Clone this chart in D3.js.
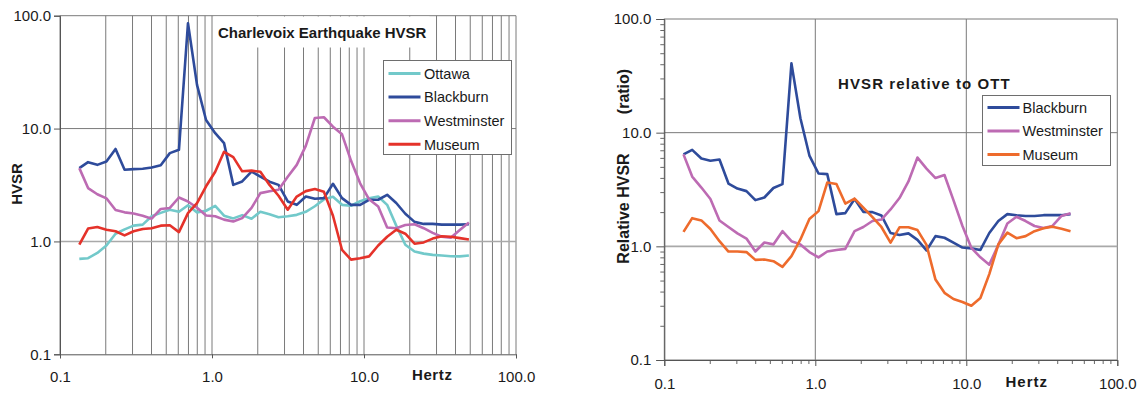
<!DOCTYPE html>
<html>
<head>
<meta charset="utf-8">
<script src="https://cdn.jsdelivr.net/npm/d3@7"></script>
<style>
  html, body { margin: 0; padding: 0; background: #fff; }
  svg { display: block; font-family: "Liberation Sans", Arial, sans-serif; }
  .tick text { fill: #1a1a1a; }
</style>
</head>
<body>
<div id="viz"></div>
<script>
//Datos (frecuencia en Hz, 1/5 de octava aprox.)
const FREQ = [0.134, 0.153, 0.176, 0.202, 0.232, 0.266, 0.305, 0.350, 0.401, 0.460,
  0.528, 0.606, 0.695, 0.797, 0.914, 1.05, 1.20, 1.38, 1.58, 1.82,
  2.08, 2.39, 2.74, 3.15, 3.61, 4.14, 4.75, 5.45, 6.25, 7.17,
  8.22, 9.43, 10.8, 12.4, 14.2, 16.3, 18.7, 21.5, 24.7, 28.3,
  32.5, 37.2, 42.7, 49.0];

//Grafico izquierdo: HVSR
const LEFT_OTTAWA = [0.70, 0.71, 0.79, 0.92, 1.17, 1.28, 1.38, 1.41, 1.67, 1.79,
  1.91, 1.83, 2.09, 1.81, 1.87, 2.07, 1.69, 1.60, 1.71, 1.59,
  1.83, 1.74, 1.64, 1.67, 1.72, 1.83, 2.05, 2.36, 2.49, 2.11,
  2.07, 2.27, 2.41, 2.50, 2.11, 1.38, 0.935, 0.815, 0.78, 0.76,
  0.75, 0.74, 0.737, 0.75];
const LEFT_BLACKBURN = [4.46, 5.04, 4.77, 5.10, 6.60, 4.31, 4.37, 4.40, 4.52, 4.74,
  6.06, 6.48, 85.7, 24.4, 11.9, 9.10, 7.43, 3.17, 3.40, 4.16,
  3.76, 3.38, 3.17, 2.26, 2.11, 2.50, 2.39, 2.42, 3.24, 2.42,
  2.11, 2.11, 2.34, 2.34, 2.59, 2.19, 1.76, 1.49, 1.43, 1.43,
  1.41, 1.41, 1.41, 1.42];
const LEFT_WESTMINSTER = [4.46, 2.97, 2.62, 2.41, 1.90, 1.81, 1.77, 1.69, 1.59, 1.94,
  1.98, 2.45, 2.26, 1.99, 1.70, 1.67, 1.56, 1.50, 1.61, 1.98,
  2.68, 2.78, 2.87, 3.74, 4.77, 7.03, 12.4, 12.6, 10.4, 8.89,
  5.18, 3.27, 2.36, 2.04, 1.33, 1.31, 1.40, 1.42, 1.31, 1.19,
  1.10, 1.08, 1.26, 1.47];
const LEFT_MUSEUM = [0.935, 1.30, 1.34, 1.27, 1.23, 1.13, 1.23, 1.29, 1.31, 1.38,
  1.39, 1.21, 1.78, 2.18, 3.08, 4.14, 6.22, 5.58, 4.18, 4.24,
  4.14, 3.17, 2.54, 1.91, 2.50, 2.79, 2.91, 2.75, 1.69, 0.84,
  0.69, 0.71, 0.737, 0.92, 1.10, 1.27, 1.17, 0.954, 0.98, 1.06,
  1.11, 1.10, 1.07, 1.04];

//Grafico derecho: HVSR relativo a OTT
const RIGHT_BLACKBURN = [6.44, 7.06, 5.92, 5.66, 5.80, 3.57, 3.22, 3.06, 2.55, 2.69,
  3.26, 3.53, 40.7, 13.4, 6.29, 4.37, 4.32, 1.92, 1.96, 2.61,
  2.01, 2.00, 1.87, 1.31, 1.26, 1.30, 1.14, 0.92, 1.23, 1.19,
  1.08, 0.976, 0.96, 0.93, 1.31, 1.67, 1.92, 1.88, 1.85, 1.85,
  1.88, 1.88, 1.88, 1.92];
const RIGHT_WESTMINSTER = [6.44, 4.11, 3.29, 2.61, 1.69, 1.48, 1.30, 1.17, 0.90, 1.08,
  1.04, 1.36, 1.11, 1.04, 0.89, 0.80, 0.90, 0.93, 0.95, 1.36,
  1.48, 1.67, 1.72, 2.11, 2.66, 3.72, 6.04, 4.83, 3.99, 4.24,
  2.55, 1.51, 0.97, 0.80, 0.69, 1.03, 1.59, 1.82, 1.67, 1.51,
  1.45, 1.51, 1.85, 1.95];
const RIGHT_MUSEUM = [1.34, 1.77, 1.69, 1.42, 1.11, 0.90, 0.90, 0.89, 0.76, 0.765,
  0.74, 0.66, 0.82, 1.15, 1.74, 2.04, 3.64, 3.53, 2.38, 2.63,
  2.19, 1.81, 1.48, 1.08, 1.47, 1.47, 1.39, 1.03, 0.51, 0.39,
  0.344, 0.324, 0.30, 0.351, 0.57, 1.04, 1.32, 1.18, 1.23, 1.36,
  1.44, 1.49, 1.43, 1.36];

const LEFT_NAMES = ['Ottawa', 'Blackburn', 'Westminster', 'Museum'];
const RIGHT_NAMES = ['Blackburn', 'Westminster', 'Museum'];
const MAJOR_TICKS = [0.1, 1, 10, 100];

//Colores
const COLOR_OTTAWA = '#72C9CA',
COLOR_BLACKBURN = '#2E4B9B',
COLOR_WESTMINSTER = '#BD6BB3',
COLOR_MUSEUM = '#E5322A',
COLOR_MUSEUM_REL = '#EE6B2C',
COLOR_GRID = '#7a7a7a',
COLOR_TEXT = '#1a1a1a';

const FONT = '"Liberation Sans", Arial, sans-serif';
let fmt = d3.format('.1f');

let svg = d3.select('#viz')
  .append('svg')
    .attr('width', 1138)
    .attr('height', 393);

function seriesData(values) {
  return FREQ.map(function(f, i) { return {f: f, v: values[i]}; });
}

///// Grafico izquierdo
(function() {
  let x = d3.scaleLog().domain([0.1, 100]).range([60, 516]);
  let y = d3.scaleLog().domain([0.1, 100]).range([354.3, 15.7]);
  let g = svg.append('g');

  //Rejilla vertical (todas las decenas)
  g.append('g')
    .selectAll('line')
    .data(x.ticks())
    .enter()
    .append('line')
      .attr('x1', function(d) { return x(d); })
      .attr('x2', function(d) { return x(d); })
      .attr('y1', y(100))
      .attr('y2', y(0.1))
      .attr('stroke', COLOR_GRID)
      .attr('stroke-width', 1);

  //Rejilla horizontal
  g.append('g')
    .selectAll('line')
    .data([10, 100])
    .enter()
    .append('line')
      .attr('x1', x(0.1))
      .attr('x2', x(100))
      .attr('y1', function(d) { return y(d); })
      .attr('y2', function(d) { return y(d); })
      .attr('stroke', COLOR_GRID);
  g.append('line')
    .attr('x1', x(0.1)).attr('x2', x(100))
    .attr('y1', y(1)).attr('y2', y(1))
    .attr('stroke', '#a9a9a9').attr('stroke-width', 1.6);

  //Caja del titulo
  g.append('rect')
    .attr('x', 213.5).attr('y', 16.5)
    .attr('width', 216).attr('height', 31)
    .attr('fill', '#fff');
  g.append('text')
    .attr('x', 218).attr('y', 38)
    .attr('font-size', 15).attr('font-weight', 700)
    .attr('fill', COLOR_TEXT)
    .text('Charlevoix Earthquake HVSR');

  //Ejes
  let yAxis = g.append('g')
    .attr('transform', 'translate(' + x(0.1) + ',0)')
    .call(d3.axisLeft(y).tickValues(MAJOR_TICKS).tickFormat(fmt).tickSize(6).tickPadding(3));
  let xAxis = g.append('g')
    .attr('transform', 'translate(0,' + y(0.1) + ')')
    .call(d3.axisBottom(x).tickValues(MAJOR_TICKS).tickFormat(fmt).tickSize(4).tickPadding(13));
  [yAxis, xAxis].forEach(function(a) {
    a.attr('font-family', FONT).attr('font-size', 15);
    a.select('.domain').attr('stroke', '#555');
    a.selectAll('.tick line').attr('stroke', '#555');
  });

  //Lineas
  let line = d3.line()
    .x(function(d) { return x(d.f); })
    .y(function(d) { return y(d.v); });
  let series = [LEFT_OTTAWA, LEFT_BLACKBURN, LEFT_WESTMINSTER, LEFT_MUSEUM];
  let colors = [COLOR_OTTAWA, COLOR_BLACKBURN, COLOR_WESTMINSTER, COLOR_MUSEUM];
  g.append('g')
    .selectAll('path')
    .data(series)
    .enter()
    .append('path')
      .attr('d', function(d) { return line(seriesData(d)); })
      .attr('fill', 'none')
      .attr('stroke', function(d, i) { return colors[i]; })
      .attr('stroke-width', 2.6)
      .attr('stroke-linejoin', 'round');

  //Leyenda
  let lg = g.append('g').attr('transform', 'translate(383.5,60.5)');
  lg.append('rect')
    .attr('width', 128).attr('height', 94)
    .attr('fill', '#fff').attr('stroke', '#6e6e6e');
  LEFT_NAMES.forEach(function(name, i) {
    let yy = 13 + i * 23.6;
    lg.append('line')
      .attr('x1', 5).attr('x2', 37).attr('y1', yy).attr('y2', yy)
      .attr('stroke', colors[i]).attr('stroke-width', 3);
    lg.append('text')
      .attr('x', 40.5).attr('y', yy + 5.2)
      .attr('font-size', 14.5).attr('fill', COLOR_TEXT)
      .text(name);
  });

  //Titulos de ejes
  g.append('text')
    .attr('transform', 'translate(22,184) rotate(-90)')
    .attr('text-anchor', 'middle')
    .attr('font-size', 15).attr('font-weight', 700).attr('fill', COLOR_TEXT)
    .text('HVSR');
  g.append('text')
    .attr('x', 412).attr('y', 380)
    .attr('font-size', 15).attr('font-weight', 700).attr('fill', COLOR_TEXT)
    .attr('letter-spacing', 0.6)
    .text('Hertz');
})();

///// Grafico derecho
(function() {
  let x = d3.scaleLog().domain([0.1, 100]).range([664.3, 1117.3]);
  let y = d3.scaleLog().domain([0.1, 100]).range([360, 19]);
  let g = svg.append('g');

  //Marco
  g.append('rect')
    .attr('x', x(0.1)).attr('y', y(100))
    .attr('width', x(100) - x(0.1)).attr('height', y(0.1) - y(100))
    .attr('fill', 'none').attr('stroke', COLOR_GRID);

  //Rejilla mayor
  g.append('g')
    .selectAll('line')
    .data([1, 10])
    .enter()
    .append('line')
      .attr('x1', function(d) { return x(d); })
      .attr('x2', function(d) { return x(d); })
      .attr('y1', y(100)).attr('y2', y(0.1))
      .attr('stroke', COLOR_GRID);
  g.append('line')
    .attr('x1', x(0.1)).attr('x2', x(100))
    .attr('y1', y(10)).attr('y2', y(10))
    .attr('stroke', COLOR_GRID);
  g.append('line')
    .attr('x1', x(0.1)).attr('x2', x(100))
    .attr('y1', y(1)).attr('y2', y(1))
    .attr('stroke', '#a9a9a9').attr('stroke-width', 1.6);

  //Ejes con marcas menores
  let minorY = y.ticks().filter(function(d) { return MAJOR_TICKS.indexOf(d) < 0; });
  let minorX = x.ticks().filter(function(d) { return MAJOR_TICKS.indexOf(d) < 0; });
  g.append('g')
    .attr('transform', 'translate(' + x(0.1) + ',0)')
    .call(d3.axisLeft(y).tickValues(minorY).tickFormat('').tickSize(4).tickSizeOuter(0))
    .call(function(a) { a.select('.domain').remove(); a.selectAll('.tick line').attr('stroke', '#666'); });
  g.append('g')
    .attr('transform', 'translate(0,' + y(0.1) + ')')
    .call(d3.axisBottom(x).tickValues(minorX).tickFormat('').tickSize(4).tickSizeOuter(0))
    .call(function(a) { a.select('.domain').remove(); a.selectAll('.tick line').attr('stroke', '#666'); });
  let yAxis = g.append('g')
    .attr('transform', 'translate(' + x(0.1) + ',0)')
    .call(d3.axisLeft(y).tickValues(MAJOR_TICKS).tickFormat(fmt).tickSize(8).tickPadding(5));
  let xAxis = g.append('g')
    .attr('transform', 'translate(0,' + y(0.1) + ')')
    .call(d3.axisBottom(x).tickValues(MAJOR_TICKS).tickFormat(fmt).tickSize(6).tickPadding(12));
  [yAxis, xAxis].forEach(function(a) {
    a.attr('font-family', FONT).attr('font-size', 15);
    a.select('.domain').attr('stroke', '#555');
    a.selectAll('.tick line').attr('stroke', '#555');
  });

  //Titulo
  g.append('text')
    .attr('x', 838).attr('y', 88.5)
    .attr('font-size', 15).attr('font-weight', 700).attr('fill', COLOR_TEXT)
    .attr('letter-spacing', 1.1)
    .text('HVSR relative to OTT');

  //Lineas
  let line = d3.line()
    .x(function(d) { return x(d.f); })
    .y(function(d) { return y(d.v); });
  let series = [RIGHT_BLACKBURN, RIGHT_WESTMINSTER, RIGHT_MUSEUM];
  let colors = [COLOR_BLACKBURN, COLOR_WESTMINSTER, COLOR_MUSEUM_REL];
  g.append('g')
    .selectAll('path')
    .data(series)
    .enter()
    .append('path')
      .attr('d', function(d) { return line(seriesData(d)); })
      .attr('fill', 'none')
      .attr('stroke', function(d, i) { return colors[i]; })
      .attr('stroke-width', 2.6)
      .attr('stroke-linejoin', 'round');

  //Leyenda
  let lg = g.append('g').attr('transform', 'translate(982.5,95.5)');
  lg.append('rect')
    .attr('width', 128).attr('height', 70)
    .attr('fill', '#fff').attr('stroke', '#6e6e6e');
  RIGHT_NAMES.forEach(function(name, i) {
    let yy = 12 + i * 23.5;
    lg.append('line')
      .attr('x1', 5).attr('x2', 37).attr('y1', yy).attr('y2', yy)
      .attr('stroke', colors[i]).attr('stroke-width', 3);
    lg.append('text')
      .attr('x', 40).attr('y', yy + 5.2)
      .attr('font-size', 14.5).attr('fill', COLOR_TEXT)
      .text(name);
  });

  //Titulos de ejes
  g.append('text')
    .attr('transform', 'translate(629,208.5) rotate(-90)')
    .attr('text-anchor', 'middle')
    .attr('font-size', 16).attr('font-weight', 700).attr('fill', COLOR_TEXT)
    .text('Relative HVSR');
  g.append('text')
    .attr('transform', 'translate(629,91.5) rotate(-90)')
    .attr('text-anchor', 'middle')
    .attr('font-size', 16).attr('font-weight', 700).attr('fill', COLOR_TEXT)
    .text('(ratio)');
  g.append('text')
    .attr('x', 1005.5).attr('y', 387)
    .attr('font-size', 15).attr('font-weight', 700).attr('fill', COLOR_TEXT)
    .attr('letter-spacing', 1)
    .text('Hertz');
})();
</script>
</body>
</html>
